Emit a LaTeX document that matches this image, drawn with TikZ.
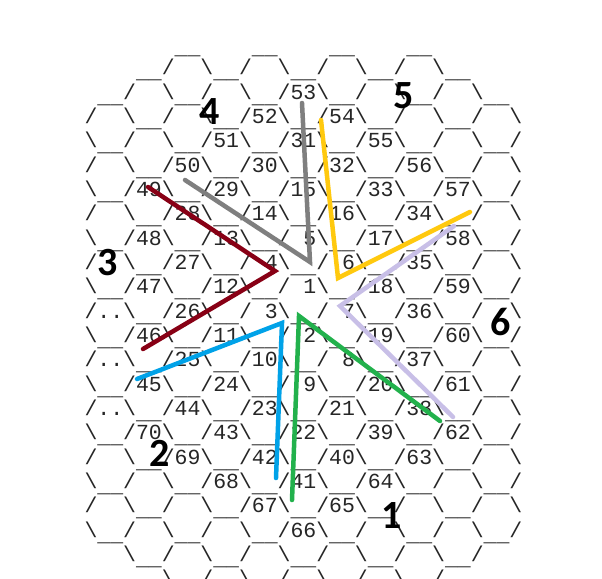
\documentclass[tikz,border=0pt]{standalone}
\usepackage{fontspec}
\newfontfamily\hexmono{Liberation Mono}
\newfontfamily\lblfont{Carlito}
\definecolor{cgray}{HTML}{7F7F7F}
\definecolor{cgold}{HTML}{FFC90E}
\definecolor{clav}{HTML}{C8BFE7}
\definecolor{cgreen}{HTML}{22B14C}
\definecolor{cblue}{HTML}{00A2E8}
\definecolor{cdred}{HTML}{880015}
\begingroup
\catcode`\|=0
|catcode`|\=12
|catcode`|_=13
|catcode`| =13%
|gdef|hexsp{|hphantom{0}}%
|gdef|hexus{|lower4pt|hbox{|char95}}%
|gdef|hexfixspace{|let =|hexsp|let_=|hexus}%
|gdef|hexrowA{       __    __    __    __}%
|gdef|hexrowB{    __/  \__/  \__/  \__/  \__}%
|gdef|hexrowC{ __/  \__/  \__/53\__/  \__/  \__}%
|gdef|hexrowD{/  \__/  \__/52\__/54\__/  \__/  \}%
|gdef|hexrowE{\__/  \__/51\__/31\__/55\__/  \__/}%
|gdef|hexrowF{/  \__/50\__/30\__/32\__/56\__/  \}%
|gdef|hexrowG{\__/49\__/29\__/15\__/33\__/57\__/}%
|gdef|hexrowH{/  \__/28\__/14\__/16\__/34\__/  \}%
|gdef|hexrowI{\__/48\__/13\__/ 5\__/17\__/58\__/}%
|gdef|hexrowJ{/  \__/27\__/ 4\__/ 6\__/35\__/  \}%
|gdef|hexrowK{\__/47\__/12\__/ 1\__/18\__/59\__/}%
|gdef|hexrowL{/..\__/26\__/ 3\__/ 7\__/36\__/  \}%
|gdef|hexrowM{\__/46\__/11\__/ 2\__/19\__/60\__/}%
|gdef|hexrowN{/..\__/25\__/10\__/ 8\__/37\__/  \}%
|gdef|hexrowO{\__/45\__/24\__/ 9\__/20\__/61\__/}%
|gdef|hexrowP{/..\__/44\__/23\__/21\__/38\__/  \}%
|gdef|hexrowQ{\__/70\__/43\__/22\__/39\__/62\__/}%
|gdef|hexrowR{/  \__/69\__/42\__/40\__/63\__/  \}%
|gdef|hexrowS{\__/  \__/68\__/41\__/64\__/  \__/}%
|gdef|hexrowT{/  \__/  \__/67\__/65\__/  \__/  \}%
|gdef|hexrowU{\__/  \__/  \__/66\__/  \__/  \__/}%
|gdef|hexrowV{   \__/  \__/  \__/  \__/  \__/}%
|gdef|hexrowW{      \__/  \__/  \__/  \__/}%
|endgroup
\begin{document}
\begin{tikzpicture}[x=1pt,y=-1pt,
  hexrow/.style={anchor=base west,inner sep=0pt,font={\hexmono\fontsize{21.46}{24}\selectfont},text=black!85},
  lbl/.style={inner sep=0pt,font={\lblfont\bfseries\fontsize{40}{40}\selectfont},text=black},
  seg/.style={line width=4.5pt,line cap=round,line join=miter}]
\fill[white] (0,0) rectangle (602,578);
\useasboundingbox (0,0) rectangle (602,578);
\foreach \rowi/\rown in {-2/A,-1/B,0/C,1/D,2/E,3/F,4/G,5/H,6/I,7/J,8/K,9/L,10/M,11/N,12/O,13/P,14/Q,15/R,16/S,17/T,18/U,19/V,20/W}
  \node[hexrow] (row\rown) at (84.3,{99.3+24.33*\rowi}) {\hexfixspace\csname hexrow\rown\endcsname};
% polyline vertices
\coordinate (g1) at (185,180);
\coordinate (g2) at (310,262);
\coordinate (g3) at (302,103);
\coordinate (y1) at (321,120);
\coordinate (y2) at (338,278);
\coordinate (y3) at (470,212);
\coordinate (v1) at (454,226);
\coordinate (v2) at (340,306);
\coordinate (v3) at (453,417);
\coordinate (n1) at (440,421);
\coordinate (n2) at (299,316);
\coordinate (n3) at (292,500);
\coordinate (b1) at (137,379);
\coordinate (b2) at (282,323);
\coordinate (b3) at (276,478);
\coordinate (d1) at (148,187);
\coordinate (d2) at (275,271);
\coordinate (d3) at (143,349);
\draw[seg,cgray] (g1) -- (g2) -- (g3);
\draw[seg,cgold] (y1) -- (y2) -- (y3);
\draw[seg,clav] (v1) -- (v2) -- (v3);
\draw[seg,cgreen] (n1) -- (n2) -- (n3);
\draw[seg,cblue] (b1) -- (b2) -- (b3);
\draw[seg,cdred] (d1) -- (d2) -- (d3);
% labels
\node[lbl] (lab1) at (392,515.5) {1};
\node[lbl] (lab2) at (160,453.5) {2};
\node[lbl] (lab3) at (107.5,262.5) {3};
\node[lbl] (lab4) at (210,111.7) {4};
\node[lbl] (lab5) at (403.5,95.5) {5};
\node[lbl] (lab6) at (501,322) {6};
\end{tikzpicture}
\end{document}
